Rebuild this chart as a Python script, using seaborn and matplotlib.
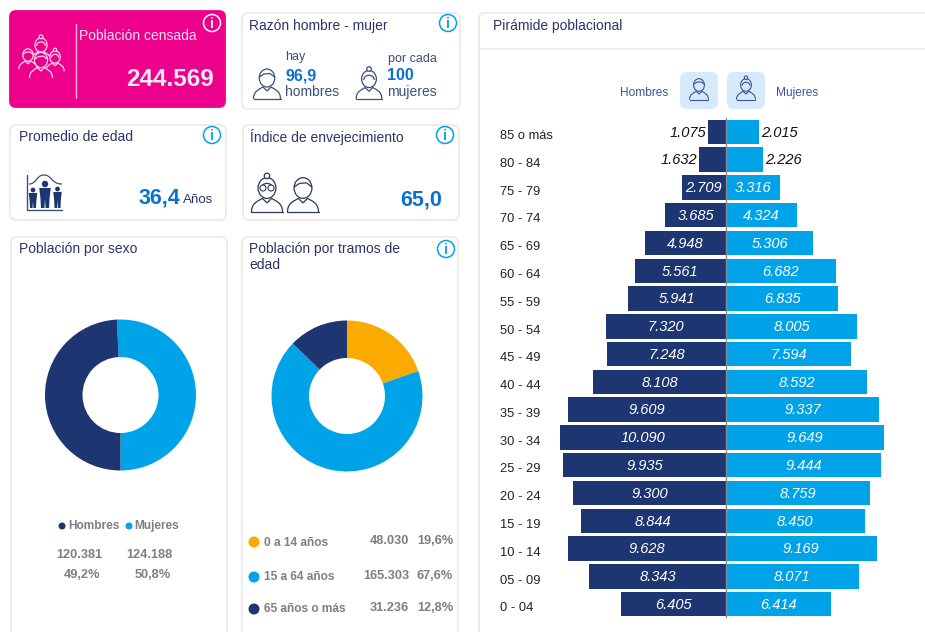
"""Censo: tablero de población con pirámide y donas."""

import matplotlib

matplotlib.use("Agg")
import matplotlib.pyplot as plt
import pandas as pd
import seaborn as sns
from matplotlib.patches import Arc, Circle, Ellipse, FancyBboxPatch, PathPatch
from matplotlib.path import Path
from matplotlib.transforms import blended_transform_factory

EDADES = [
    "85 o más", "80 - 84", "75 - 79", "70 - 74", "65 - 69", "60 - 64",
    "55 - 59", "50 - 54", "45 - 49", "40 - 44", "35 - 39", "30 - 34",
    "25 - 29", "20 - 24", "15 - 19", "10 - 14", "05 - 09", "0 - 04",
]
HOMBRES = [1075, 1632, 2709, 3685, 4948, 5561, 5941, 7320, 7248, 8108, 9609, 10090,
           9935, 9300, 8844, 9628, 8343, 6405]
MUJERES = [2015, 2226, 3316, 4324, 5306, 6682, 6835, 8005, 7594, 8592, 9337, 9649,
           9444, 8759, 8450, 9169, 8071, 6414]
SEXO_VALORES = [124188, 120381]
TRAMOS_VALORES = [48030, 165303, 31236]

ROSA = "#EC008C"
OSCURO = "#1D3570"
CELESTE = "#00A3E8"
NARANJA = "#FBAB00"
TITULO = "#2B3468"
AZUL = "#0A70D2"
GRIS = "#7F7F7F"
LINEA = "#3A4F7F"
W, H = 925, 632
ESCALA = 0.01642
CENTRO = 726

sns.set_theme(style="white")
plt.rcParams["font.family"] = ["Liberation Sans", "DejaVu Sans"]

fig = plt.figure(figsize=(W / 100, H / 100), dpi=100, facecolor="white")
fondo = fig.add_axes([0, 0, 1, 1])
fondo.set_xlim(0, W)
fondo.set_ylim(H, 0)
fondo.axis("off")


def tarjeta(x0, y0, x1, y1, color="white", borde="#EAEAEA"):
    fondo.add_patch(FancyBboxPatch((x0 + 5, y0 + 5), x1 - x0 - 10, y1 - y0 - 10,
                                   boxstyle="round,pad=5,rounding_size=6",
                                   fc=color, ec=borde, lw=1.3))


def info(x, y, color=CELESTE):
    fondo.add_patch(Circle((x, y), 8.5, fc="none", ec=color, lw=1.1))
    fondo.text(x, y + 0.5, "i", color=color, fontsize=10, ha="center", va="center", fontweight="bold")


def texto(x, y, s, size=10, color=TITULO, ha="left", va="center", **kw):
    return fondo.text(x, y, s, fontsize=size, color=color, ha=ha, va=va, **kw)


def persona(x, y, s=1.0, color=LINEA, mujer=False, lw=0.9, relleno="white", base=True):
    # x, y es el centro de la cabeza; el cuerpo se dibuja primero
    cuerpo = Path(
        [(x - 13.5 * s, y + 21 * s), (x - 13.5 * s, y + 13 * s), (x - 8 * s, y + 11.5 * s), (x - 4 * s, y + 9 * s),
         (x, y + 13 * s), (x + 4 * s, y + 9 * s),
         (x + 8 * s, y + 11.5 * s), (x + 13.5 * s, y + 13 * s), (x + 13.5 * s, y + 21 * s)],
        [Path.MOVETO, Path.CURVE4, Path.CURVE4, Path.CURVE4,
         Path.LINETO, Path.LINETO,
         Path.CURVE4, Path.CURVE4, Path.CURVE4],
    )
    fondo.add_patch(PathPatch(cuerpo, fc=relleno, ec=color, lw=lw))
    if base:
        fondo.plot([x - 13.5 * s, x + 13.5 * s], [y + 21 * s, y + 21 * s], color=color, lw=lw)
    fondo.add_patch(Ellipse((x, y), 15.5 * s, 18 * s, fc=relleno, ec=color, lw=lw))
    if mujer:
        fondo.add_patch(Circle((x, y - 10.5 * s), 2.4 * s, fc=relleno, ec=color, lw=lw))
        fondo.add_patch(Arc((x, y + 1 * s), 11 * s, 10 * s, theta1=180, theta2=360, color=color, lw=lw))
    else:
        fondo.plot([x - 7.5 * s, x - 3 * s, x + 3 * s, x + 7.5 * s],
                   [y - 1 * s, y - 4 * s, y - 4.5 * s, y - 1 * s], color=color, lw=lw)


def figura(x, cabeza, pie, s):
    # silueta sólida para el ícono de edad
    fondo.add_patch(Circle((x, cabeza), 2.8 * s, fc=OSCURO, ec="none"))
    fondo.fill([x - 5 * s, x + 5 * s, x + 4 * s, x + 3.5 * s, x + 0.5 * s, x, x - 0.5 * s, x - 3.5 * s, x - 4 * s],
               [cabeza + 3.5 * s, cabeza + 3.5 * s, cabeza + 12 * s, pie, pie, cabeza + 13 * s, pie, pie, cabeza + 12 * s],
               color=OSCURO, lw=0)


# tarjetas
tarjeta(10, 11, 225, 107, color=ROSA, borde=ROSA)
tarjeta(242, 13, 460, 109)
tarjeta(10, 125, 226, 220)
tarjeta(243, 125, 459, 220)
tarjeta(11, 237, 227, 650)
tarjeta(242, 237, 458, 650)
tarjeta(479, 13, 945, 650)
fondo.plot([479, 925], [49, 49], color="#EAEAEA", lw=1.2)

# población censada
fondo.plot([76, 76], [24, 98], color="#F7B5DA", lw=1)
texto(79, 36, "Población censada", 10, color="#FBE3F1")
texto(214, 79, "244.569", 17.5, color="#FBE9F4", ha="right", fontweight="bold")
info(212, 23, color="white")
for px, py, s, m in [(41, 45, 0.78, True), (28, 55, 0.68, False), (55, 57, 0.68, True), (41, 60, 0.85, False)]:
    persona(px, py, s, color="#FBD5EA", mujer=m, lw=0.9, relleno=ROSA, base=False)

# razón
texto(249, 26, "Razón hombre - mujer", 10)
info(448, 23)
texto(285, 57, "hay", 9, color=LINEA)
texto(285, 76, "96,9", 11.5, color=AZUL, fontweight="bold")
texto(285, 92, "hombres", 10, color=LINEA)
texto(387.5, 59, "por cada", 9, color=LINEA)
texto(387.5, 75, "100", 11.5, color=AZUL, fontweight="bold")
texto(387.5, 92, "mujeres", 10, color=LINEA)
persona(267, 78, 1.0)
persona(369, 79, 0.95, mujer=True)

# promedio
texto(19, 137, "Promedio de edad", 10)
info(212, 135)
texto(180, 198, "36,4", 15.5, color=AZUL, ha="right", fontweight="bold")
texto(183, 200, "Años", 9.5, color=TITULO)
fondo.plot([27, 27, 62], [175, 210, 210], color=LINEA, lw=1)
campana = Path([(29, 184), (37, 184), (36, 175), (44, 175), (52, 175), (51, 184), (62, 184)],
               [Path.MOVETO, Path.CURVE4, Path.CURVE4, Path.CURVE4, Path.CURVE4, Path.CURVE4, Path.CURVE4])
fondo.add_patch(PathPatch(campana, fc="none", ec=LINEA, lw=0.9))
figura(33, 190, 208, 0.85)
figura(45, 184, 208, 1.15)
figura(57.5, 189, 208, 0.85)

# índice
texto(250, 137, "Índice de envejecimiento", 10)
info(445, 135)
texto(442, 200, "65,0", 15.5, color=AZUL, ha="right", fontweight="bold")
persona(267, 188, 1.15, mujer=True, color="#2B3A55")
persona(303, 188, 1.15, color="#2B3A55")
for gx in (263, 271):
    fondo.add_patch(Circle((gx, 188), 3, fc="white", ec="#2B3A55", lw=0.8))

# donas
texto(19, 249, "Población por sexo", 10)
texto(249, 249, "Población por tramos de", 10)
texto(249, 265, "edad", 10)
info(446, 249)


def dona(cx, cy, valores, colores, inicio=90, r=75.5, interior=38):
    ax = fig.add_axes([(cx - r) / W, 1 - (cy + r) / H, 2 * r / W, 2 * r / H])
    ax.pie(valores, colors=colores, startangle=inicio, counterclock=False, radius=1,
           wedgeprops={"width": 1 - interior / r, "linewidth": 0})
    ax.set_xlim(-1, 1)
    ax.set_ylim(-1, 1)
    ax.patch.set_alpha(0)


dona(120.5, 395, SEXO_VALORES, sns.color_palette([CELESTE, OSCURO]), inicio=92.8)
dona(347, 396, TRAMOS_VALORES, sns.color_palette([NARANJA, CELESTE, OSCURO]))

fondo.add_patch(Circle((62, 526), 3.5, fc=OSCURO, ec="none"))
texto(68, 526, "Hombres", 8.6, color=GRIS, fontweight="bold")
fondo.add_patch(Circle((129, 526), 3.5, fc=CELESTE, ec="none"))
texto(134.5, 526, "Mujeres", 8.6, color=GRIS, fontweight="bold")
texto(79.5, 555, "120.381", 9.2, color=GRIS, ha="center", fontweight="bold")
texto(149, 555, "124.188", 9.2, color=GRIS, ha="center", fontweight="bold")
texto(82, 575, "49,2%", 9.2, color=GRIS, ha="center", fontweight="bold")
texto(153, 575, "50,8%", 9.2, color=GRIS, ha="center", fontweight="bold")

FILAS = [
    (542, NARANJA, "0 a 14 años", "48.030", "19,6%"),
    (577, CELESTE, "15 a 64 años", "165.303", "67,6%"),
    (609, OSCURO, "65 años o más", "31.236", "12,8%"),
]
for fy, col, nombre, valor, pct in FILAS:
    fondo.add_patch(Circle((254, fy), 5.5, fc=col, ec="none"))
    texto(264, fy + 0.5, nombre, 8.6, color=GRIS, fontweight="bold")
    texto(409, fy - 1, valor, 9.2, color=GRIS, ha="right", fontweight="bold")
    texto(453, fy - 1, pct, 9.2, color=GRIS, ha="right", fontweight="bold")

# pirámide
texto(493, 26, "Pirámide poblacional", 10)
texto(668, 93, "Hombres", 8.6, color="#3B5596", ha="right")
texto(776, 93, "Mujeres", 8.6, color="#3B5596")
for bx, m in [(680, False), (727, True)]:
    fondo.add_patch(FancyBboxPatch((bx + 5, 72 + 5), 28, 27, boxstyle="round,pad=5,rounding_size=7",
                                   fc="#D6EAFB", ec="none"))
    persona(bx + 19, 85, 0.7, mujer=m, color="#3B5596", lw=0.8, relleno="#D6EAFB")

ax = fig.add_axes([480 / W, 1 - 618 / H, 445 / W, 500 / H])
ax.patch.set_alpha(0)
datos = pd.DataFrame({"edad": EDADES, "hombres": [-v for v in HOMBRES], "mujeres": MUJERES})
sns.barplot(data=datos, x="hombres", y="edad", order=EDADES, color=OSCURO, orient="h",
            width=0.88, saturation=1, ax=ax, linewidth=0)
sns.barplot(data=datos, x="mujeres", y="edad", order=EDADES, color=CELESTE, orient="h",
            width=0.88, saturation=1, ax=ax, linewidth=0)
ax.set_xlim((480 - CENTRO) / ESCALA, (925 - CENTRO) / ESCALA)
ax.set_ylim(17.5, -0.5)
ax.axvline(0, color="#858A94", lw=1)
ax.set_xlabel("")
ax.set_ylabel("")
ax.set_xticks([])
ax.set_yticks([])
sns.despine(ax=ax, left=True, bottom=True)

trans = blended_transform_factory(ax.transAxes, ax.transData)
for i, edad in enumerate(EDADES):
    ax.text(20 / 445, i + 0.15, edad, transform=trans, fontsize=9.3, color="#222222", ha="left", va="center")
    for signo, valor in [(-1, HOMBRES[i]), (1, MUJERES[i])]:
        etiqueta = f"{valor:,}".replace(",", ".")
        if valor < 2500:
            ax.text(signo * (valor + 130), i + 0.03, etiqueta, fontsize=10.5, style="italic", color="#111111",
                    ha="right" if signo < 0 else "left", va="center")
        else:
            ax.text(signo * valor / 2, i + 0.03, etiqueta, fontsize=10.5, style="italic", color="white",
                    ha="center", va="center")

fig.savefig("out.png", dpi=100)
